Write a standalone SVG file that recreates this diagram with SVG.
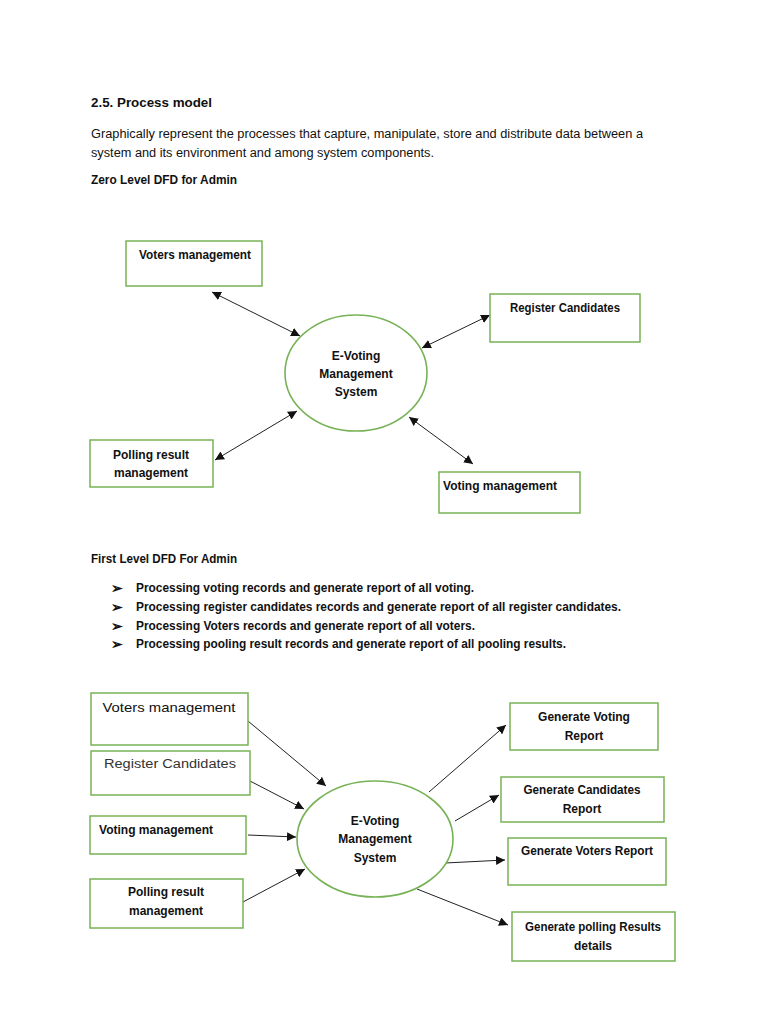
<svg xmlns="http://www.w3.org/2000/svg" width="768" height="1024" viewBox="0 0 768 1024">
<defs>
<style>
text{font-family:"Liberation Sans",Arial,sans-serif;fill:#111;}
.h{font-size:13.5px;font-weight:bold;}
.p{font-size:12px;}
.b{font-size:12px;font-weight:bold;}
.bl{font-size:14px;font-weight:bold;}
.n{font-size:12px;font-weight:bold;text-anchor:middle;}
.r{font-size:12.5px;text-anchor:middle;}
.box{fill:#fff;stroke:#77b256;stroke-width:1.5;}
.ell{fill:#fff;stroke:#77b256;stroke-width:1.6;}
.c{stroke:#222;stroke-width:1;fill:none;}
</style>
<marker id="ah" viewBox="0 0 10 10" refX="10" refY="5" markerWidth="9" markerHeight="9" markerUnits="userSpaceOnUse" orient="auto-start-reverse">
<path d="M0,0 L10,5 L0,10 z" fill="#111"/>
</marker>
</defs>
<rect width="768" height="1024" fill="#fff"/>

<g id="texts">
<text class="h" x="91" y="107" textLength="121" lengthAdjust="spacingAndGlyphs">2.5.  Process model</text>
<text class="p" x="91" y="138" textLength="552" lengthAdjust="spacingAndGlyphs">Graphically represent the processes that capture, manipulate, store and distribute data between a</text>
<text class="p" x="91" y="157" textLength="343" lengthAdjust="spacingAndGlyphs">system and its environment and among system components.</text>
<text class="b" x="91" y="184" textLength="146" lengthAdjust="spacingAndGlyphs">Zero Level DFD for Admin</text>
<text class="b" x="91" y="563" textLength="146" lengthAdjust="spacingAndGlyphs">First Level DFD For Admin</text>
<text class="bl" x="111" y="593">➢</text>
<text class="b" x="136" y="592" textLength="338" lengthAdjust="spacingAndGlyphs">Processing voting records and generate report of all voting.</text>
<text class="bl" x="111" y="612">➢</text>
<text class="b" x="136" y="611" textLength="485" lengthAdjust="spacingAndGlyphs">Processing register candidates records and generate report of all register candidates.</text>
<text class="bl" x="111" y="631">➢</text>
<text class="b" x="136" y="630" textLength="339" lengthAdjust="spacingAndGlyphs">Processing Voters records and generate report of all voters.</text>
<text class="bl" x="111" y="649">➢</text>
<text class="b" x="136" y="648" textLength="430" lengthAdjust="spacingAndGlyphs">Processing pooling result records and generate report of all pooling results.</text>
</g>

<g id="connectors">
<line class="c" x1="212" y1="292" x2="300" y2="336" marker-start="url(#ah)" marker-end="url(#ah)"/>
<line class="c" x1="422" y1="348" x2="490" y2="315" marker-start="url(#ah)" marker-end="url(#ah)"/>
<line class="c" x1="215" y1="460" x2="297" y2="411" marker-start="url(#ah)" marker-end="url(#ah)"/>
<line class="c" x1="409" y1="417" x2="473" y2="464" marker-start="url(#ah)" marker-end="url(#ah)"/>
<line class="c" x1="248" y1="721" x2="326" y2="786" marker-end="url(#ah)"/>
<line class="c" x1="250" y1="781" x2="304" y2="809" marker-end="url(#ah)"/>
<line class="c" x1="248" y1="835" x2="296" y2="837" marker-end="url(#ah)"/>
<line class="c" x1="243" y1="902" x2="305" y2="869" marker-end="url(#ah)"/>
<line class="c" x1="429" y1="792" x2="506" y2="725" marker-end="url(#ah)"/>
<line class="c" x1="455" y1="821" x2="499" y2="795" marker-end="url(#ah)"/>
<line class="c" x1="445" y1="863" x2="505" y2="860" marker-end="url(#ah)"/>
<line class="c" x1="417" y1="889" x2="508" y2="925" marker-end="url(#ah)"/>
</g>

<g id="z-voters">
<rect class="box" x="126" y="241" width="136" height="45"/>
<text class="n" x="195" y="259" textLength="112" lengthAdjust="spacingAndGlyphs">Voters management</text>
</g>
<g id="z-register">
<rect class="box" x="490" y="294" width="150" height="48"/>
<text class="n" x="565" y="312" textLength="110" lengthAdjust="spacingAndGlyphs">Register Candidates</text>
</g>
<g id="z-system">
<ellipse class="ell" cx="356" cy="373" rx="71" ry="58"/>
<text class="n" x="356" y="360">E-Voting</text>
<text class="n" x="356" y="378">Management</text>
<text class="n" x="356" y="396">System</text>
</g>
<g id="z-polling">
<rect class="box" x="90" y="440" width="123" height="47"/>
<text class="n" x="151" y="459">Polling result</text>
<text class="n" x="151" y="477">management</text>
</g>
<g id="z-voting">
<rect class="box" x="439" y="472" width="141" height="41"/>
<text class="n" x="500" y="490" textLength="114" lengthAdjust="spacingAndGlyphs">Voting management</text>
</g>

<g id="f-voters">
<rect class="box" x="91" y="693" width="157" height="52"/>
<text class="r" x="169" y="712" textLength="133" lengthAdjust="spacingAndGlyphs" style="font-size:13px">Voters management</text>
</g>
<g id="f-register">
<rect class="box" x="91" y="751" width="159" height="44"/>
<text class="r" x="170" y="768" textLength="132" lengthAdjust="spacingAndGlyphs" style="font-size:12px;fill:#333">Register Candidates</text>
</g>
<g id="f-voting">
<rect class="box" x="90" y="816" width="156" height="38"/>
<text class="n" x="156" y="834" textLength="114" lengthAdjust="spacingAndGlyphs">Voting management</text>
</g>
<g id="f-polling">
<rect class="box" x="90" y="879" width="153" height="49"/>
<text class="n" x="166" y="896">Polling result</text>
<text class="n" x="166" y="915">management</text>
</g>
<g id="f-system">
<ellipse class="ell" cx="375" cy="839" rx="78" ry="58"/>
<text class="n" x="375" y="825">E-Voting</text>
<text class="n" x="375" y="843">Management</text>
<text class="n" x="375" y="862">System</text>
</g>
<g id="f-gvoting">
<rect class="box" x="510" y="703" width="148" height="47"/>
<text class="n" x="584" y="721">Generate Voting</text>
<text class="n" x="584" y="740">Report</text>
</g>
<g id="f-gcand">
<rect class="box" x="501" y="777" width="163" height="45"/>
<text class="n" x="582" y="794" textLength="117" lengthAdjust="spacingAndGlyphs">Generate Candidates</text>
<text class="n" x="582" y="813">Report</text>
</g>
<g id="f-gvoters">
<rect class="box" x="508" y="838" width="158" height="47"/>
<text class="n" x="587" y="855" textLength="132" lengthAdjust="spacingAndGlyphs">Generate Voters Report</text>
</g>
<g id="f-gpoll">
<rect class="box" x="512" y="912" width="163" height="49"/>
<text class="n" x="593" y="931" textLength="136" lengthAdjust="spacingAndGlyphs">Generate polling Results</text>
<text class="n" x="593" y="950">details</text>
</g>
</svg>
